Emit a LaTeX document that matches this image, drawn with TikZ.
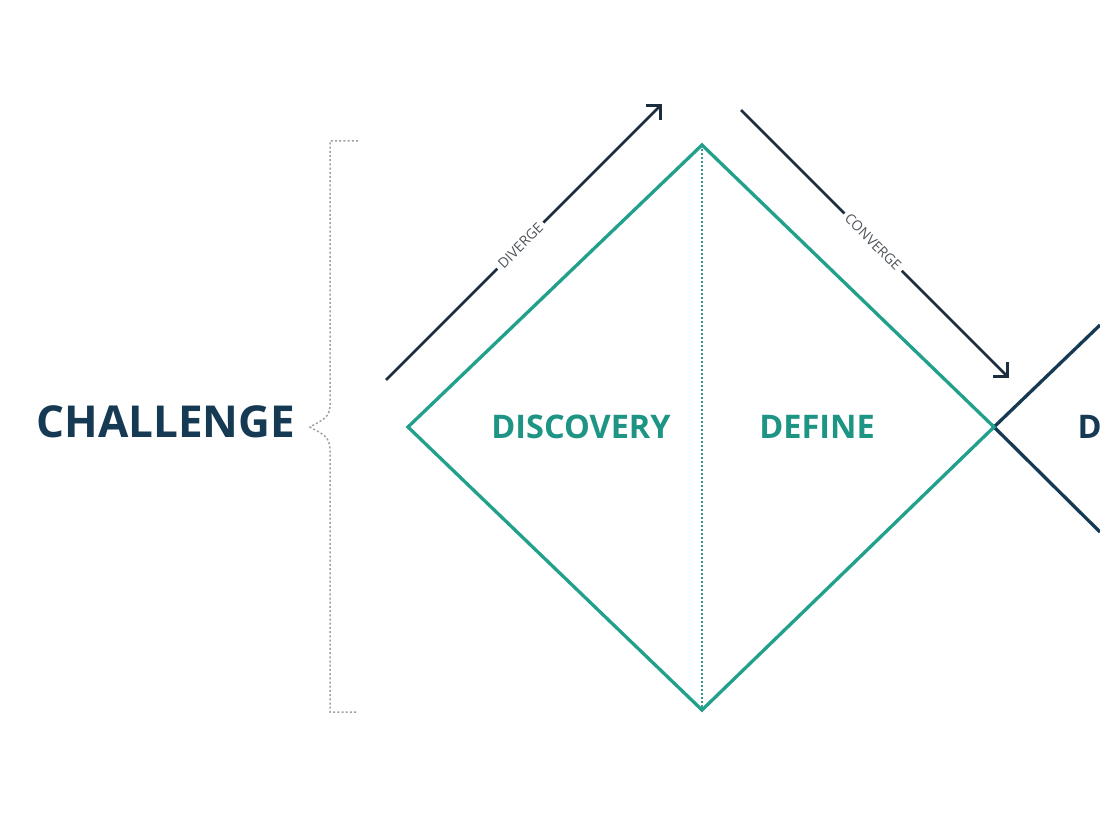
\documentclass[tikz,border=0pt]{standalone}
\usepackage{fontspec}
\setmainfont{Open Sans}
\usetikzlibrary{arrows.meta}
\definecolor{teal1}{HTML}{21A08C}
\definecolor{tealtext}{HTML}{1E9484}
\definecolor{navy}{HTML}{163A54}
\definecolor{arrowc}{HTML}{1C2E3D}
\definecolor{bracec}{HTML}{A29DA8}
\definecolor{labelc}{HTML}{50555B}
\tikzset{
  diam/.style={draw=teal1, line width=3.3pt, line join=miter},
  flowarrow/.style={draw=arrowc, line width=2.8pt, -{Straight Barb[length=10pt,width=20pt,line width=2.8pt]}},
  flowlabel/.style={sloped, fill=white, inner sep=4pt, text=labelc, font=\fontsize{14}{14}\selectfont},
  phase/.style={font=\fontsize{32.5}{32.5}\selectfont\bfseries, text=tealtext},
  bigtitle/.style={font=\fontsize{44}{44}\selectfont\bfseries, text=navy, anchor=west},
}
\begin{document}
\begin{tikzpicture}[x=1pt,y=-1pt]
\useasboundingbox (0,0) rectangle (1100,826);
\fill[white] (0,0) rectangle (1100,826);
% diamond vertices
\coordinate (L) at (408,427);
\coordinate (T) at (702,145);
\coordinate (R) at (994,427);
\coordinate (B) at (702,710);
\coordinate (N1) at (1100,325);
\coordinate (N2) at (1100,532);
% second diamond (partial)
\begin{scope}
\clip (0,0) rectangle (1100,826);
\draw[draw=navy, line width=3.3pt] (N1) -- (R) -- (N2);
\node[font=\fontsize{32.5}{32.5}\selectfont\bfseries, text=navy, anchor=west] (dev) at (1074,427) {D};
\end{scope}
\draw[diam] (L) -- (T) -- (R) -- (B) -- cycle;
\draw[draw=teal1!80!gray, line width=2pt, dash pattern=on 1.6pt off 2.4pt] (T) -- (B);
% phase labels
\node[phase] (disc) at (581,427) {DISCOVERY};
\node[phase] (def) at (817,427) {DEFINE};
% challenge
\node[bigtitle] (chal) at (33,422) {CHALLENGE};
% brace
\coordinate (bt) at (358,141);
\coordinate (bb) at (358,712);
\coordinate (bm) at (310,427);
\draw[draw=bracec, line width=1.5pt, dash pattern=on 2pt off 2.2pt]
  (bt) -- (330,141) -- (330,405) .. controls (330,418) and (322,420) .. (bm)
  .. controls (322,434) and (330,436) .. (330,450) -- (330,712) -- (bb);
% arrows
\coordinate (d1) at (386,380);
\coordinate (d2) at (662,104);
\coordinate (c1) at (741,110);
\coordinate (c2) at (1009,378);
\draw[flowarrow] (d1) -- node[flowlabel, pos=0.487] (divl) {DIVERGE} (d2);
\draw[flowarrow] (c1) -- node[flowlabel, pos=0.493] (conl) {CONVERGE} (c2);
\end{tikzpicture}
\end{document}
